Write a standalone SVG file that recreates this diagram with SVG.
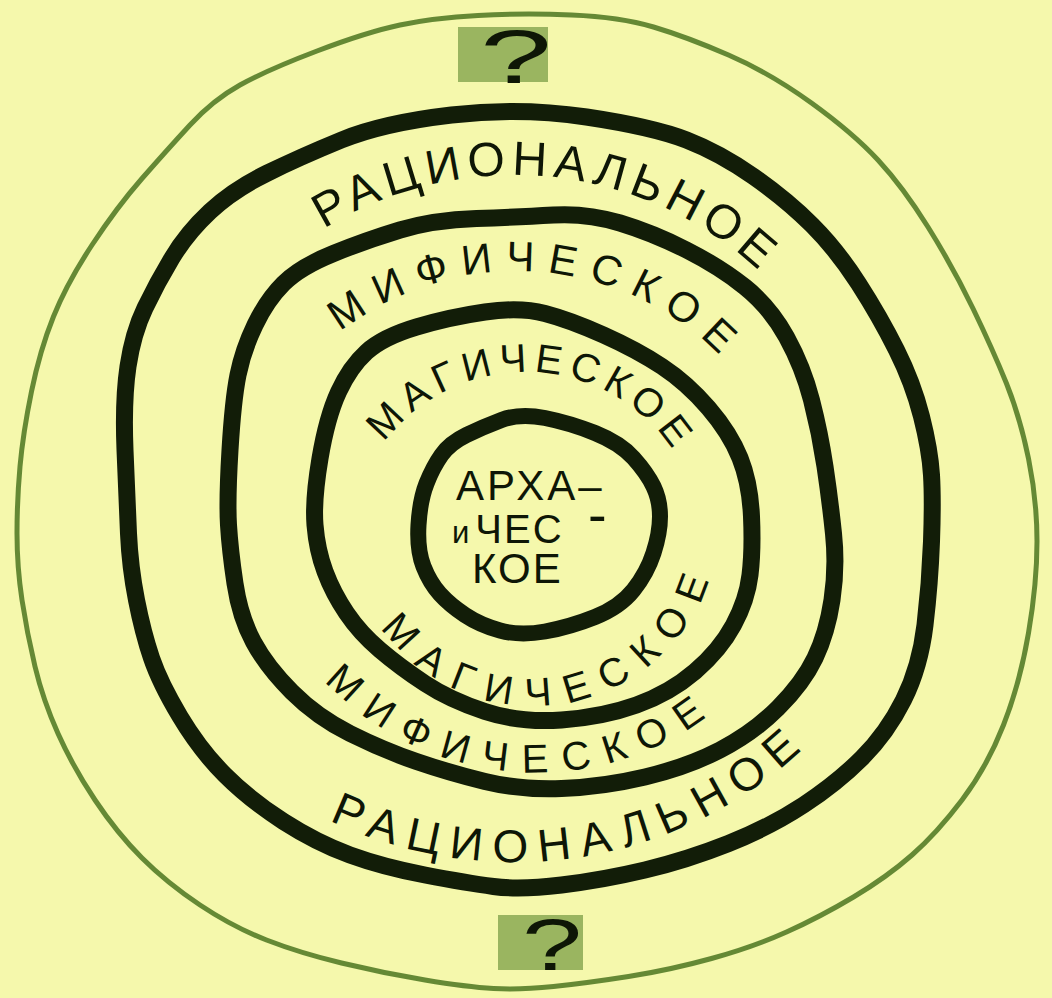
<svg xmlns="http://www.w3.org/2000/svg" width="1052" height="998" viewBox="0 0 1052 998">
  <style>
    .bg { fill: #f5f8ac; }
    .outer { fill: none; stroke: #557c28; stroke-width: 5; stroke-linejoin: round; opacity: 0.9; }
    .ring { fill: none; stroke: #121d08; stroke-linejoin: round; }
    .lbl { font-family: "Liberation Sans", "DejaVu Sans", sans-serif; fill: #0e1606; }
    .qbox { fill: #9ab560; }
    .q { font-family: "Liberation Sans", "DejaVu Sans", sans-serif; fill: #0e1606; text-anchor: middle; }
  </style>
  <defs>
    <path id="p-rat-top" d="M 316.9,233.4 A 362 362 0 0 1 810.5,329.4"/>
    <path id="p-myth-top" d="M 332.5,338.2 A 287 287 0 0 1 765.5,414.5"/>
    <path id="p-mag-top" d="M 380.6,447.7 A 177.5 177.5 0 0 1 692.8,488.8"/>
    <path id="p-mag-bot" d="M 378.8,624 A 186 186 0 0 0 716.2,552.3"/>
    <path id="p-myth-bot" d="M 320.5,676.5 A 290 290 0 0 0 741,687.6"/>
    <path id="p-rat-bot" d="M 320.3,815.6 A 426.7 426.7 0 0 0 820.9,731.8"/>
  </defs>

  <rect class="bg" x="0" y="0" width="1052" height="998"/>

  <g id="outer-ring">
    <path class="outer" d="M 478,15.5 Q 523,13 571.5,15 Q 620,17 653.5,27 Q 687,37 728.5,55 Q 770,73 811.5,103 Q 853,133 878,160 Q 903,187 928,227 Q 953,267 973,308.5 Q 993,350 1006.5,383.5 Q 1020,417 1028.5,458.5 Q 1037,500 1037,541.5 Q 1037,583 1028.5,633 Q 1020,683 1003.5,725 Q 987,767 962,800 Q 937,833 912,855 Q 887,877 853.5,897 Q 820,917 786.5,932 Q 753,947 711.5,958.5 Q 670,970 628.5,976.5 Q 587,983 553.5,986.5 Q 520,990 493.5,988.5 Q 467,987 425,980 Q 383,973 341.5,963 Q 300,953 266.5,940 Q 233,927 200,905 Q 167,883 142,858 Q 117,833 95,800 Q 73,767 58,733.5 Q 43,700 35,666.5 Q 27,633 22,600 Q 17,567 17,533.5 Q 17,500 20,466.5 Q 23,433 31.5,391.5 Q 40,350 53.5,316.5 Q 67,283 92,245 Q 117,207 142,178.5 Q 167,150 190,125 Q 213,100 240,85 Q 267,70 317,51 Q 367,32 400,25 Q 433,18 478,15.5 Z"/>
  </g>

  <g id="question-top">
    <rect class="qbox" x="458" y="27" width="90" height="55"/>
    <text class="q" transform="translate(516,83) scale(1.7,1)" font-size="76">?</text>
  </g>

  <g id="question-bottom">
    <rect class="qbox" x="498" y="915" width="85" height="55"/>
    <text class="q" transform="translate(552,970) scale(1.5,1)" font-size="72">?</text>
  </g>

  <g id="ring-rational">
    <path class="ring" stroke-width="17" d="M 451.5,115 Q 520,107 586.5,117 Q 653,127 686.5,140 Q 720,153 753.5,176.5 Q 787,200 812,225 Q 837,250 858.5,283.5 Q 880,317 896.5,350 Q 913,383 921.5,416.5 Q 930,450 931.5,475 Q 933,500 931.5,541.5 Q 930,583 925,625 Q 920,667 903.5,700 Q 887,733 862,758 Q 837,783 803.5,805 Q 770,827 728.5,843.5 Q 687,860 645,870 Q 603,880 561.5,885 Q 520,890 493.5,886.5 Q 467,883 425,875 Q 383,867 350,855 Q 317,843 283.5,821.5 Q 250,800 225,775 Q 200,750 180,716.5 Q 160,683 151.5,658 Q 143,633 136.5,600 Q 130,567 128.5,533.5 Q 127,500 125,450 Q 123,400 128,366.5 Q 133,333 145,308 Q 157,283 172,258 Q 187,233 210,211.5 Q 233,190 266.5,173.5 Q 300,157 341.5,140 Q 383,123 451.5,115 Z"/>
    <text class="lbl" font-size="48" letter-spacing="6"><textPath href="#p-rat-top" startOffset="8">РАЦИОНАЛЬНОЕ</textPath></text>
    <text class="lbl" font-size="46" letter-spacing="11"><textPath href="#p-rat-bot" startOffset="10">РАЦИОНАЛЬНОЕ</textPath></text>
  </g>

  <g id="ring-mythic">
    <path class="ring" stroke-width="17" d="M 476.5,218.5 Q 520,217 553.5,215 Q 587,213 620,223 Q 653,233 686.5,250 Q 720,267 745,287 Q 770,307 786.5,337 Q 803,367 811.5,400 Q 820,433 825,466.5 Q 830,500 833.5,533.5 Q 837,567 832,600 Q 827,633 815,658 Q 803,683 778,708 Q 753,733 720,750 Q 687,767 645,777 Q 603,787 561.5,788.5 Q 520,790 485,781.5 Q 450,773 416.5,761.5 Q 383,750 350,733.5 Q 317,717 292,692 Q 267,667 253.5,642 Q 240,617 235,583.5 Q 230,550 228.5,525 Q 227,500 230,450 Q 233,400 238,375 Q 243,350 255,325 Q 267,300 283.5,283.5 Q 300,267 333.5,253.5 Q 367,240 400,230 Q 433,220 476.5,218.5 Z"/>
    <text class="lbl" font-size="42" letter-spacing="13"><textPath href="#p-myth-top" startOffset="10">МИФИЧЕСКОЕ</textPath></text>
    <text class="lbl" font-size="40" letter-spacing="15"><textPath href="#p-myth-bot" startOffset="6">МИФИЧЕСКОЕ</textPath></text>
  </g>

  <g id="ring-magic">
    <path class="ring" stroke-width="17" d="M 485,312 Q 520,307 545,313.5 Q 570,320 603.5,335 Q 637,350 662,366.5 Q 687,383 708.5,408 Q 730,433 740,458 Q 750,483 751.5,516.5 Q 753,550 750,575 Q 747,600 733.5,625 Q 720,650 695,671.5 Q 670,693 636.5,705 Q 603,717 561.5,720 Q 520,723 485,711.5 Q 450,700 425,683.5 Q 400,667 380,650 Q 360,633 346.5,613 Q 333,593 325,571.5 Q 317,550 315,525 Q 313,500 320,458.5 Q 327,417 338.5,392 Q 350,367 366.5,352 Q 383,337 416.5,327 Q 450,317 485,312 Z"/>
    <text class="lbl" font-size="40" letter-spacing="7"><textPath href="#p-mag-top" startOffset="6">МАГИЧЕСКОЕ</textPath></text>
    <text class="lbl" font-size="40" letter-spacing="15"><textPath href="#p-mag-bot" startOffset="4">МАГИЧЕСКОЕ</textPath></text>
  </g>

  <g id="ring-archaic">
    <path class="ring" stroke-width="16" d="M 501.5,420 Q 520,413 545,418 Q 570,423 595,433 Q 620,443 633.5,458 Q 647,473 653.5,486.5 Q 660,500 660,516.5 Q 660,533 653.5,553 Q 647,573 633.5,590 Q 620,607 595,617 Q 570,627 545,631.5 Q 520,636 500,630.5 Q 480,625 465,615 Q 450,605 440,594 Q 430,583 423.5,566.5 Q 417,550 418.5,525 Q 420,500 426.5,483.5 Q 433,467 441.5,455 Q 450,443 466.5,435 Q 483,427 501.5,420 Z"/>
    <text class="lbl" font-size="42" x="456" y="500" letter-spacing="3">АРХА–</text>
    <text class="lbl" font-size="40" x="452" y="543" letter-spacing="2"><tspan font-size="31">и</tspan><tspan dx="4">ЧЕС</tspan><tspan x="588" y="534" font-size="56">-</tspan></text>
    <text class="lbl" font-size="42" x="472" y="583" letter-spacing="2">КОЕ</text>
  </g>
</svg>
